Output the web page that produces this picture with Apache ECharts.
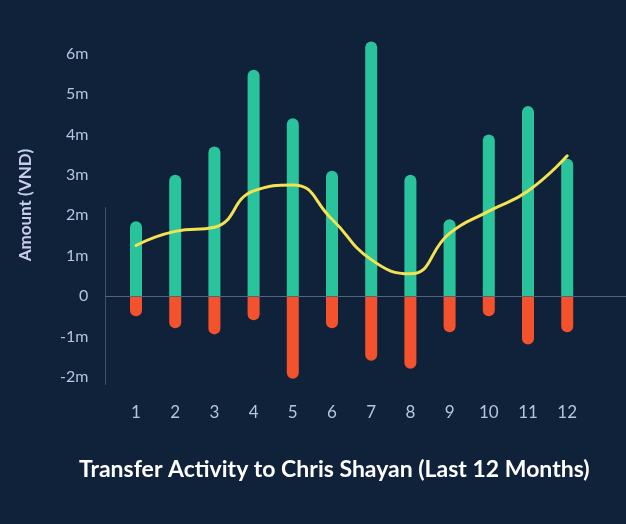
<!DOCTYPE html>
<html>
<head>
<meta charset="utf-8">
<script src="https://cdn.jsdelivr.net/npm/echarts@6/dist/echarts.min.js"></script>
<style>
html,body{margin:0;padding:0;background:#10223a;}
#c{width:626px;height:524px;}
</style>
</head>
<body>
<div id="c"></div>
<script>
const months = ['1','2','3','4','5','6','7','8','9','10','11','12'];
const incoming = [1.85, 3.0, 3.7, 5.6, 4.4, 3.1, 6.3, 3.0, 1.9, 4.0, 4.7, 3.4];
const outgoing = [-0.5, -0.8, -0.95, -0.6, -2.05, -0.8, -1.6, -1.8, -0.9, -0.5, -1.2, -0.9];
const trend = [1.25, 1.6, 1.7, 2.6, 2.75, 1.9, 0.9, 0.55, 1.55, 2.1, 2.6, 3.47];
const yMin = -2, yMax = 6.5, yStep = 1;

const chart = echarts.init(document.getElementById('c'), null, {renderer:'canvas'});
const labelColor = '#b7c3e2';
const font = 'Lato';
chart.setOption({
  backgroundColor: '#10223a',
  animation: false,
  title: {
    text: 'Transfer Activity to Chris Shayan (Last 12 Months)',
    left: 74, top: 453,
    textStyle: {color:'#ffffff', fontSize:23, fontWeight:'bold', fontFamily:font}
  },
  grid: {left:116.4, right:39.2, top:33.4, bottom:147.2},
  xAxis: {
    type:'category', data: months, boundaryGap:true,
    axisLine:{show:false, onZero:false}, axisTick:{show:false},
    axisLabel:{color:labelColor, fontSize:17, fontFamily:font, margin:27}
  },
  yAxis: {
    type:'value', min:yMin, max:yMax, interval:yStep,
    name:'Amount (VND)', nameLocation:'middle', nameGap:82, nameRotate:90,
    nameTextStyle:{color:'#c8cdee', fontSize:17, fontWeight:'bold', fontFamily:font},
    axisLine:{show:false}, axisTick:{show:false}, splitLine:{show:false},
    axisLabel:{color:labelColor, fontSize:16, fontFamily:font, margin:28, showMaxLabel:true,
      formatter: v => Number.isInteger(v) ? (v === 0 ? '0' : v + 'm') : ''}
  },
  series: [
    {type:'bar', stack:'t', data:incoming, barWidth:12, clip:false,
     itemStyle:{color:'#29c49b', borderRadius:[6,6,0,0]}},
    {type:'bar', stack:'t', data:outgoing, barWidth:12, clip:false,
     itemStyle:{color:'#f4512d', borderRadius:[0,0,6,6]}},
    {type:'line', data:trend, smooth:0.5, symbol:'none', z:5,
     lineStyle:{color:'#f5e252', width:3, cap:'round'}}
  ]
});
const y0 = chart.convertToPixel({yAxisIndex:0}, 0);
const yT = chart.convertToPixel({yAxisIndex:0}, 2.2);
const yB = chart.convertToPixel({yAxisIndex:0}, -2.2);
chart.setOption({
  graphic: [
    {type:'line', shape:{x1:105.5, y1:yT, x2:105.5, y2:yB}, style:{stroke:'#3d4f6b', lineWidth:1}, z:0},
    {type:'line', shape:{x1:105, y1:y0+0.5, x2:626, y2:y0+0.5}, style:{stroke:'#52637e', lineWidth:1}, z:10}
  ]
});
</script>
</body>
</html>
